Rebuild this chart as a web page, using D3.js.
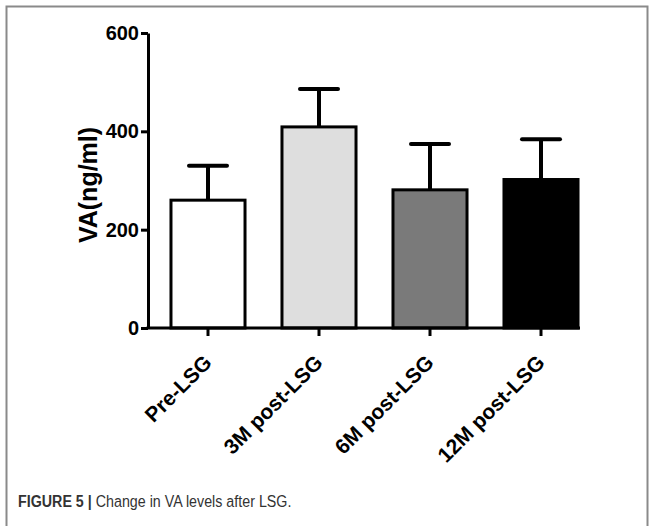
<!DOCTYPE html>
<html>
<head>
<meta charset="utf-8">
<script src="https://cdn.jsdelivr.net/npm/d3@7"></script>
<style>
  body { margin: 0; background: #fff; }
  svg { display: block; }
</style>
</head>
<body>
<svg id="chart"></svg>
<script>
const groups = ['Pre-LSG', '3M post-LSG', '6M post-LSG', '12M post-LSG'];
const means = [260, 409, 281, 302];
const errTops = [330, 486, 374, 384];
const fills = ['#ffffff', '#dedede', '#7a7a7a', '#000000'];
const yTicks = [0, 200, 400, 600];

const width = 654, height = 526;
const svg = d3.select('#chart').attr('width', width).attr('height', height);

// figure frame
svg.append('rect')
  .attr('x', 6.5).attr('y', 6.5)
  .attr('width', 641).attr('height', 540)
  .attr('fill', 'none').attr('stroke', '#8a8a8a').attr('stroke-width', 2);

const axisX = 148, axisEnd = 580;
const y = d3.scaleLinear().domain([0, 600]).range([328, 33]);
const x = d3.scaleBand().domain(groups).range([152.5, 596.5])
  .paddingInner(0.333).paddingOuter(0.1665);

const font = 'Liberation Sans, Arial, sans-serif';

// y axis
const yAxis = svg.append('g')
  .attr('transform', `translate(${axisX},0)`)
  .call(d3.axisLeft(y).tickValues(yTicks).tickSize(7).tickPadding(2).tickSizeOuter(0));
yAxis.select('.domain').attr('stroke', '#000').attr('stroke-width', 3);
yAxis.selectAll('.tick line').attr('stroke', '#000').attr('stroke-width', 3);
yAxis.selectAll('.tick text')
  .attr('font-family', font).attr('font-size', 20).attr('font-weight', 'bold').attr('fill', '#000');

svg.append('text')
  .attr('transform', 'translate(97,185) rotate(-90)')
  .attr('text-anchor', 'middle')
  .attr('font-family', font).attr('font-size', 25).attr('font-weight', 'bold')
  .text('VA(ng/ml)');

// bars
svg.selectAll('.bar')
  .data(groups)
  .enter().append('rect')
  .attr('class', 'bar')
  .attr('x', d => x(d))
  .attr('y', (d, i) => y(means[i]))
  .attr('width', x.bandwidth())
  .attr('height', (d, i) => y(0) - y(means[i]))
  .attr('fill', (d, i) => fills[i])
  .attr('stroke', '#000').attr('stroke-width', 3);

// error bars
const cap = 38;
groups.forEach((g, i) => {
  const cx = x(g) + x.bandwidth() / 2;
  svg.append('line')
    .attr('x1', cx).attr('x2', cx)
    .attr('y1', y(means[i])).attr('y2', y(errTops[i]))
    .attr('stroke', '#000').attr('stroke-width', 4);
  svg.append('line')
    .attr('x1', cx - cap / 2).attr('x2', cx + cap / 2)
    .attr('y1', y(errTops[i])).attr('y2', y(errTops[i]))
    .attr('stroke', '#000').attr('stroke-width', 4).attr('stroke-linecap', 'round');
});

// x axis
const xAxis = svg.append('g')
  .attr('transform', `translate(0,${y(0)})`)
  .call(d3.axisBottom(x).tickSize(8).tickSizeOuter(0));
xAxis.select('.domain').remove();
xAxis.append('line')
  .attr('x1', axisX - 1.5).attr('x2', axisEnd)
  .attr('stroke', '#000').attr('stroke-width', 3);
xAxis.selectAll('.tick line').attr('stroke', '#000').attr('stroke-width', 3);
xAxis.selectAll('.tick text')
  .attr('font-family', font).attr('font-size', 21).attr('font-weight', 'bold').attr('fill', '#000')
  .attr('text-anchor', 'end')
  .attr('transform', 'translate(5,36) rotate(-45)')
  .attr('dy', 0).attr('y', 0).attr('x', 0);

// caption (condensed face imitated with a horizontal squeeze)
const caption = svg.append('text')
  .attr('transform', 'translate(18,507) scale(0.84,1)')
  .attr('font-family', font)
  .attr('font-size', 17).attr('fill', '#333');
caption.append('tspan').attr('font-weight', 'bold').text('FIGURE 5 | ');
caption.append('tspan').text('Change in VA levels after LSG.');
</script>
</body>
</html>
